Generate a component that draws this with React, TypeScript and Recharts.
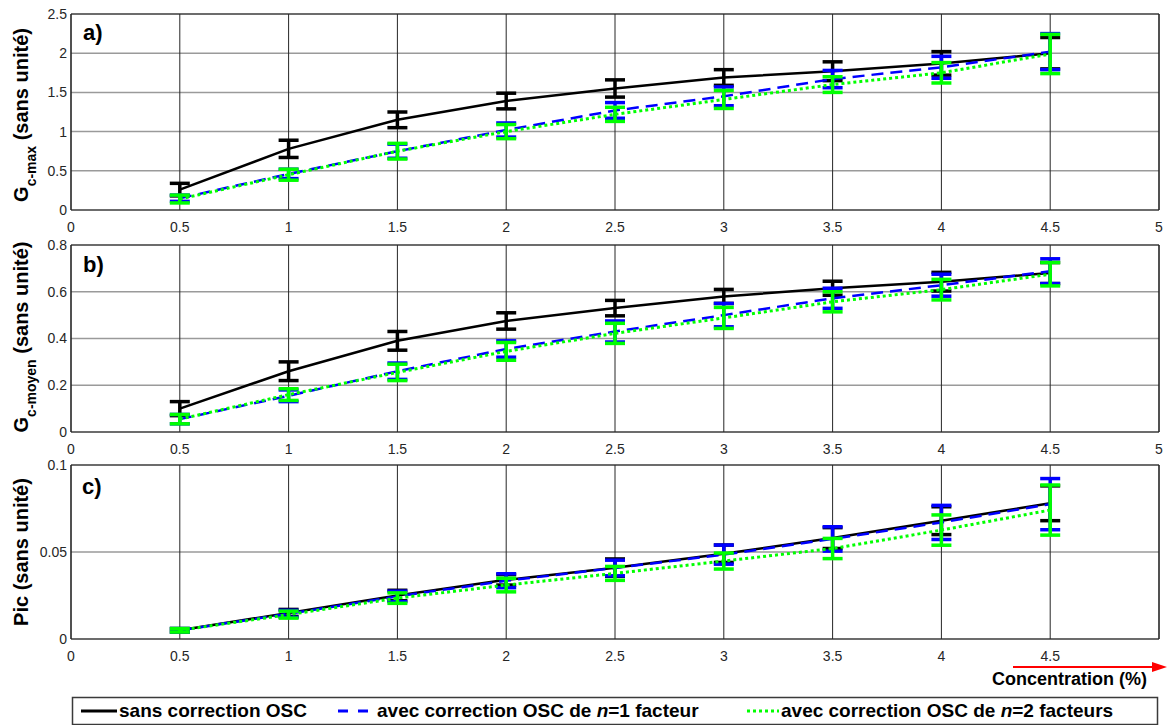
import React from 'react';
import { LineChart, Line, XAxis, YAxis, CartesianGrid, ErrorBar, ReferenceLine } from 'recharts';

const concentrations = [0.5, 1, 1.5, 2, 2.5, 3, 3.5, 4, 4.5];
const xTicks = [0, 0.5, 1, 1.5, 2, 2.5, 3, 3.5, 4, 4.5, 5];
const xTicksPic = [0, 0.5, 1, 1.5, 2, 2.5, 3, 3.5, 4, 4.5];

// a) G c-max
const gmaxSans = [0.26, 0.78, 1.15, 1.39, 1.55, 1.69, 1.77, 1.87, 2.0];
const gmaxSansErr = [0.08, 0.11, 0.1, 0.1, 0.11, 0.1, 0.12, 0.15, 0.2];
const gmaxN1 = [0.15, 0.46, 0.75, 1.02, 1.27, 1.45, 1.67, 1.82, 2.02];
const gmaxN1Err = [0.04, 0.06, 0.09, 0.09, 0.1, 0.12, 0.11, 0.14, 0.23];
const gmaxN2 = [0.14, 0.45, 0.75, 1.0, 1.22, 1.41, 1.6, 1.75, 1.99];
const gmaxN2Err = [0.05, 0.07, 0.1, 0.09, 0.09, 0.115, 0.1, 0.13, 0.25];
const gmaxTicks = [0, 0.5, 1, 1.5, 2, 2.5];

// b) G c-moyen
const gmoySans = [0.1, 0.26, 0.39, 0.475, 0.53, 0.58, 0.615, 0.643, 0.68];
const gmoySansErr = [0.03, 0.04, 0.04, 0.035, 0.033, 0.03, 0.03, 0.04, 0.045];
const gmoyN1 = [0.055, 0.155, 0.26, 0.355, 0.43, 0.5, 0.572, 0.628, 0.688];
const gmoyN1Err = [0.02, 0.025, 0.035, 0.035, 0.045, 0.05, 0.043, 0.047, 0.053];
const gmoyN2 = [0.055, 0.16, 0.255, 0.345, 0.422, 0.488, 0.557, 0.609, 0.675];
const gmoyN2Err = [0.02, 0.025, 0.035, 0.038, 0.043, 0.045, 0.043, 0.044, 0.05];
const gmoyTicks = [0, 0.2, 0.4, 0.6, 0.8];

// c) Pic
const picSans = [0.005, 0.015, 0.025, 0.034, 0.041, 0.049, 0.058, 0.068, 0.078];
const picSansErr = [0.001, 0.002, 0.003, 0.003, 0.005, 0.005, 0.006, 0.008, 0.01];
const picN1 = [0.005, 0.0145, 0.0245, 0.0335, 0.0408, 0.0485, 0.0575, 0.067, 0.0775];
const picN1Err = [0.001, 0.002, 0.003, 0.004, 0.0045, 0.0055, 0.007, 0.0098, 0.0147];
const picN2 = [0.005, 0.014, 0.0235, 0.031, 0.0377, 0.0448, 0.052, 0.0626, 0.0741];
const picN2Err = [0.001, 0.002, 0.003, 0.0039, 0.004, 0.0046, 0.0058, 0.0087, 0.0144];
const picTicks = [0, 0.05, 0.1];

const FONT = '"Liberation Sans", Arial, sans-serif';
const AXIS = '#262626';

function rows(sans, sansErr, n1, n1Err, n2, n2Err) {
  return concentrations.map((c, i) => ({
    c,
    sans: sans[i], sansErr: sansErr[i],
    n1: n1[i], n1Err: n1Err[i],
    n2: n2[i], n2Err: n2Err[i],
  }));
}

function Panel({ data, yTicks, xt, top, height, plotH }) {
  const yMax = yTicks[yTicks.length - 1];
  const tickStyle = { fontSize: 14, fill: AXIS, fontFamily: FONT };
  return (
    <div style={{ position: 'absolute', left: 0, top }}>
      <LineChart width={1167} height={height} data={data}
        margin={{ top: 14, right: 8, left: 0, bottom: height - 14 - plotH - 30 }}>
        <CartesianGrid vertical={false} stroke="#9a9a9a" strokeWidth={1.5} />
        <CartesianGrid horizontal={false} stroke={AXIS} strokeWidth={1} />
        <XAxis type="number" dataKey="c" domain={[0, 5]} ticks={xt} interval={0}
          height={30} tickLine={false} tickSize={6} tickMargin={6}
          axisLine={{ stroke: AXIS, strokeWidth: 1.2 }} tick={tickStyle} />
        <YAxis type="number" domain={[0, yMax]} ticks={yTicks} interval={0} width={71}
          tickLine={false} tickSize={3} tickMargin={1}
          axisLine={{ stroke: AXIS, strokeWidth: 1.2 }} tick={tickStyle} />
        <ReferenceLine y={yMax} stroke={AXIS} strokeWidth={1.2} />
        <ReferenceLine x={5} stroke={AXIS} strokeWidth={1.2} />
        <Line dataKey="sans" stroke="#000000" strokeWidth={2.5} dot={false} isAnimationActive={false}>
          <ErrorBar dataKey="sansErr" direction="y" width={10} strokeWidth={3.5} stroke="#000000" isAnimationActive={false} />
        </Line>
        <Line dataKey="n1" stroke="#0000ff" strokeWidth={2.5} strokeDasharray="12 7" dot={false} isAnimationActive={false}>
          <ErrorBar dataKey="n1Err" direction="y" width={10} strokeWidth={3.5} stroke="#0000ff" isAnimationActive={false} />
        </Line>
        <Line dataKey="n2" stroke="#00ff00" strokeWidth={3} strokeDasharray="3 3" dot={false} isAnimationActive={false}>
          <ErrorBar dataKey="n2Err" direction="y" width={10} strokeWidth={3.5} stroke="#00ff00" isAnimationActive={false} />
        </Line>
      </LineChart>
    </div>
  );
}

export default function App() {
  const dataA = rows(gmaxSans, gmaxSansErr, gmaxN1, gmaxN1Err, gmaxN2, gmaxN2Err);
  const dataB = rows(gmoySans, gmoySansErr, gmoyN1, gmoyN1Err, gmoyN2, gmoyN2Err);
  const dataC = rows(picSans, picSansErr, picN1, picN1Err, picN2, picN2Err);

  return (
    <div style={{ position: 'absolute', left: 0, top: 0, width: 1167, height: 725, background: '#fff', overflow: 'hidden', fontFamily: FONT }}>
      <Panel data={dataA} yTicks={gmaxTicks} xt={xTicks} top={0} height={240} plotH={196} />
      <Panel data={dataB} yTicks={gmoyTicks} xt={xTicks} top={231} height={231} plotH={187} />
      <Panel data={dataC} yTicks={picTicks} xt={xTicksPic} top={451} height={218} plotH={174} />

      <svg width={1167} height={725} style={{ position: 'absolute', left: 0, top: 0, pointerEvents: 'none' }} fontFamily={FONT}>
        {/* y labels */}
        <text transform="translate(28,115) rotate(-90)" textAnchor="middle" fontSize={20} fontWeight="bold" fill="#000">
          G<tspan fontSize={14} dy={8}>c-max</tspan><tspan dy={-8}>{' (sans unité)'}</tspan>
        </text>
        <text transform="translate(28,337) rotate(-90)" textAnchor="middle" fontSize={20} fontWeight="bold" fill="#000">
          G<tspan fontSize={14} dy={8}>c-moyen</tspan><tspan dy={-8}>{' (sans unité)'}</tspan>
        </text>
        <text transform="translate(28,552) rotate(-90)" textAnchor="middle" fontSize={20} fontWeight="bold" fill="#000">
          Pic (sans unité)
        </text>

        {/* panel letters */}
        <text x={83} y={40} fontSize={22} fontWeight="bold">a)</text>
        <text x={83} y={272} fontSize={22} fontWeight="bold">b)</text>
        <text x={82} y={494} fontSize={22} fontWeight="bold">c)</text>

        {/* x axis title with arrow */}
        <line x1={1013} y1={667} x2={1156} y2={667} stroke="#ff0000" strokeWidth={2} />
        <path d="M1167,667 L1152,662 L1152,672 Z" fill="#ff0000" />
        <text x={1147} y={685} textAnchor="end" fontSize={18} fontWeight="bold">Concentration (%)</text>

        {/* legend */}
        <rect x={72.5} y={697.5} width={1085} height={27} fill="#fff" stroke="#3a3a3a" strokeWidth={1.5} />
        <line x1={81} y1={711} x2={117} y2={711} stroke="#000" strokeWidth={3} />
        <text x={119} y={717} fontSize={19} fontWeight="bold">sans correction OSC</text>
        <line x1={338} y1={711} x2={368} y2={711} stroke="#0000ff" strokeWidth={3} strokeDasharray="10 10" />
        <text x={377} y={717} fontSize={19} fontWeight="bold">
          avec correction OSC de <tspan fontStyle="italic">n</tspan>=1 facteur
        </text>
        <line x1={747} y1={711} x2={779} y2={711} stroke="#00ff00" strokeWidth={3} strokeDasharray="3 3" />
        <text x={781} y={717} fontSize={19} fontWeight="bold">
          avec correction OSC de <tspan fontStyle="italic">n</tspan>=2 facteurs
        </text>
      </svg>
    </div>
  );
}
